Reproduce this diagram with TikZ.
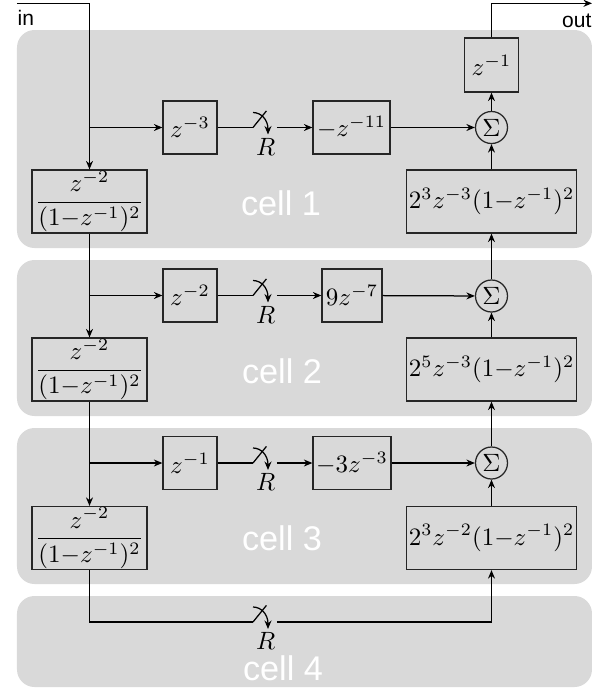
\documentclass[tikz,border=0pt]{standalone}
\usepackage{amsmath}
\usepackage{fontspec}
\newfontfamily\labfont{Liberation Sans}
\usetikzlibrary{arrows.meta}
\tikzset{
  swtch/.pic={
    \draw (0,0) -- (13.4,-16.6);
    \draw[->] (0,-15) .. controls (8,-15) and (15,-8) .. (15,7);
    \node[inner sep=0pt] (R) at (12.7,19) {$R$};
  }
}
\begin{document}
\begin{tikzpicture}[x=0.4pt,y=-0.4pt,
  >={Stealth[length=3.4pt,width=2.8pt,inset=1.1pt]},
  line width=0.5pt,
  cellbg/.style={fill=gray!30, rounded corners=7pt, draw=none},
  blk/.style={draw=black!85, inner sep=0pt, minimum width=#1, minimum height=21.2pt},
  blk/.default=21.6pt,
  fbox/.style={draw=black!85, inner sep=0pt, minimum width=46pt, minimum height=25.2pt},
  pbox/.style={draw=black!85, inner sep=0pt, minimum width=68pt, minimum height=25.2pt},
  sigmanode/.style={draw=black!85, circle, inner sep=0pt, minimum size=12.8pt},
  celllab/.style={text=white, font=\labfont\fontsize{13.7}{16}\selectfont, anchor=base, inner sep=0pt},
  iolab/.style={font=\labfont\fontsize{8.4}{10}\selectfont, inner sep=0pt}
]
\useasboundingbox (0,0) rectangle (605,689);
% cells
\path[cellbg] (17,30) rectangle (592,248);
\path[cellbg] (17,260) rectangle (592,416);
\path[cellbg] (17,428) rectangle (592,584);
\path[cellbg] (17,596) rectangle (592,687);
\node[celllab] (c1) at (281,215) {cell 1};
\node[celllab] (c2) at (282,383) {cell 2};
\node[celllab] (c3) at (282,550) {cell 3};
\node[celllab] (c4) at (283,680) {cell 4};
% blocks row 1
\node[blk] (z3) at (190,127.5) {$z^{-3}$};
\node[blk=30.8pt] (m11) at (351.5,127.5) {$-z^{-11}$};
\node[sigmanode] (S1) at (491.5,127.5) {$\Sigma$};
\node[blk, minimum height=21.6pt] (zi) at (491.5,65) {$z^{-1}$};
\node[fbox] (F1) at (89.5,201.5) {$\dfrac{z^{-2}}{(1{-}z^{-1})^2}$};
\node[pbox] (P1) at (491.5,201.5) {$2^3z^{-3}(1{-}z^{-1})^2$};
% row 2
\node[blk] (z2) at (190,295.5) {$z^{-2}$};
\node[blk=24pt] (n7) at (352,295.5) {$9z^{-7}$};
\node[sigmanode] (S2) at (491.5,296) {$\Sigma$};
\node[fbox] (F2) at (89.5,369.5) {$\dfrac{z^{-2}}{(1{-}z^{-1})^2}$};
\node[pbox] (P2) at (491.5,369.5) {$2^5z^{-3}(1{-}z^{-1})^2$};
% row 3
\node[blk] (z1) at (190,463) {$z^{-1}$};
\node[blk=31.2pt] (m3) at (352,463) {$-3z^{-3}$};
\node[sigmanode] (S3) at (491.5,463) {$\Sigma$};
\node[fbox] (F3) at (89.5,538) {$\dfrac{z^{-2}}{(1{-}z^{-1})^2}$};
\node[pbox] (P3) at (491.5,538) {$2^3z^{-2}(1{-}z^{-1})^2$};
% in / out
\coordinate (inS) at (17,3.3);
\node[iolab, anchor=base west] (in) at (17,25) {in};
\coordinate (outE) at (592,3.3);
\node[iolab, anchor=base east] (out) at (592,27) {out};
% branch and switch coordinates
\coordinate (b1) at (89.5,127.5);
\coordinate (b2) at (89.5,295.5);
\coordinate (b3) at (89.5,463);
\coordinate (s1a) at (253,127.5); \coordinate (s1b) at (277,127.5);
\coordinate (s2a) at (253,295.5); \coordinate (s2b) at (277,295.5);
\coordinate (s3a) at (253,463);   \coordinate (s3b) at (277,463);
\coordinate (s4a) at (253,622);   \coordinate (s4b) at (277,622);
% left chain
\draw[->] (inS) -| (F1);
\draw[->] (F1) -- (F2);
\draw[->] (F2) -- (F3);
\draw (F3) |- (s4a);
% rows
\draw[->] (b1) -- (z3);
\draw (z3) -- (s1a);
\pic (sw1) at (s1a) {swtch};
\draw[->] (s1b) -- (m11);
\draw[->] (m11) -- (S1);
\draw[->] (b2) -- (z2);
\draw (z2) -- (s2a);
\pic (sw2) at (s2a) {swtch};
\draw[->] (s2b) -- (n7);
\draw[->] (n7) -- (S2);
\draw[->] (b3) -- (z1);
\draw (z1) -- (s3a);
\pic (sw3) at (s3a) {swtch};
\draw[->] (s3b) -- (m3);
\draw[->] (m3) -- (S3);
\pic (sw4) at (s4a) {swtch};
\draw[->] (s4b) -| (P3);
% right chain
\draw[->] (P3) -- (S3);
\draw[->] (S3) -- (P2);
\draw[->] (P2) -- (S2);
\draw[->] (S2) -- (P1);
\draw[->] (P1) -- (S1);
\draw[->] (S1) -- (zi);
\draw[->] (zi) |- (outE);
\end{tikzpicture}
\end{document}
